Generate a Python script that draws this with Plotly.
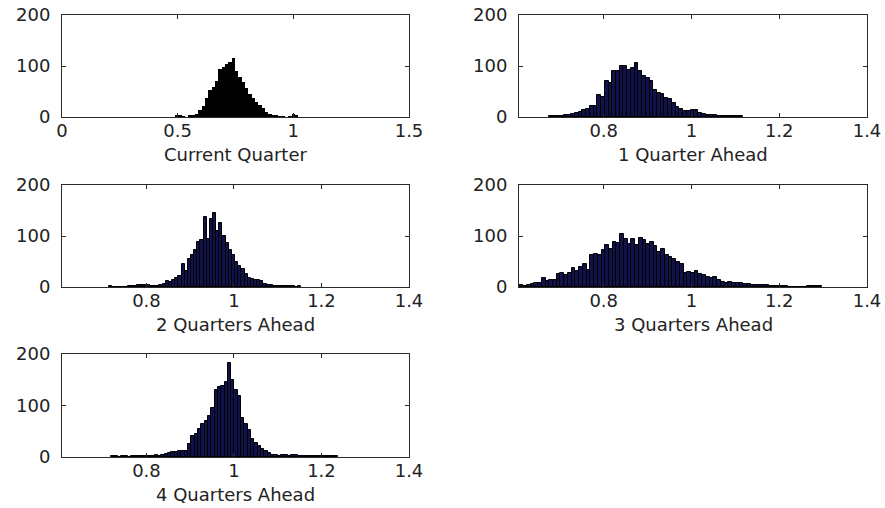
import plotly.graph_objects as go

# ---------------- data (histogram counts) ----------------
titles = ["Current Quarter", "1 Quarter Ahead", "2 Quarters Ahead",
          "3 Quarters Ahead", "4 Quarters Ahead"]

current_start = 0.489
current_width = 0.0144
current_counts = [4, 3, 1, 0, 3, 4, 6, 13, 22, 38, 52, 58, 70, 94, 99, 104, 108, 115,
                  90, 79, 69, 56, 46, 37, 30, 24, 17, 10, 5, 3, 2, 1, 1, 0, 1, 5, 2]

q1_start = 0.675
q1_width = 0.0085
q1_counts = [1, 1, 2, 2, 3, 3, 5, 7, 10, 13, 16, 22, 22, 44, 40, 70, 66, 90, 91, 100,
             100, 93, 97, 105, 90, 80, 76, 70, 52, 48, 45, 38, 36, 28, 20, 15, 12, 12,
             13, 14, 8, 6, 4, 3, 3, 2, 2, 1, 2, 1, 1, 1]

q2_start = 0.7145
q2_width = 0.0072
q2_counts = [1, 0, 0, 0, 0, 0, 1, 1, 2, 3, 4, 3, 4, 2, 2, 2, 3, 5, 11, 10, 14, 18, 22,
             45, 32, 55, 62, 72, 88, 93, 138, 95, 133, 146, 110, 125, 100, 86, 72, 62,
             50, 42, 36, 25, 18, 16, 14, 13, 11, 6, 3, 3, 2, 2, 2, 1, 1, 2, 1, 0, 1]

q3_start = 0.608
q3_width = 0.0085
q3_counts = [3, 2, 4, 6, 7, 8, 17, 12, 13, 14, 25, 27, 24, 28, 38, 32, 40, 45, 34, 62,
             64, 62, 72, 82, 75, 88, 86, 103, 95, 84, 95, 82, 97, 93, 85, 88, 80, 68,
             74, 62, 58, 55, 50, 45, 28, 30, 27, 31, 25, 24, 20, 18, 19, 14, 9, 8, 9,
             8, 7, 7, 6, 5, 4, 4, 3, 3, 3, 2, 2, 2, 1, 2, 0, 0, 0, 0, 0, 2, 1, 2, 1]

q4_start = 0.72
q4_width = 0.0076
q4_counts = [1, 1, 0, 1, 1, 0, 1, 1, 1, 2, 2, 2, 2, 3, 2, 3, 5, 7, 9, 10, 11, 11, 12,
             26, 40, 45, 55, 65, 70, 80, 95, 130, 135, 138, 145, 183, 150, 130, 118,
             75, 65, 52, 35, 28, 22, 15, 12, 8, 4, 3, 2, 4, 3, 2, 3, 3, 2, 2, 2, 1, 2,
             1, 1, 2, 2, 1, 1, 1]

x_ranges = [[0, 1.5], [0.607, 1.4], [0.607, 1.4], [0.607, 1.4], [0.607, 1.4]]
x_ticks = [[0, 0.5, 1, 1.5], [0.8, 1, 1.2, 1.4], [0.8, 1, 1.2, 1.4],
           [0.8, 1, 1.2, 1.4], [0.8, 1, 1.2, 1.4]]
x_ticktext = [["0", "0.5", "1", "1.5"], ["0.8", "1", "1.2", "1.4"],
              ["0.8", "1", "1.2", "1.4"], ["0.8", "1", "1.2", "1.4"],
              ["0.8", "1", "1.2", "1.4"]]
y_ticks = [0, 100, 200]
y_ticktext = ["0", "100", "200"]

# ---------------- layout geometry (pixels in an 885x508 figure) ----------------
W, H = 885, 508
boxes = [(62, 409, 15, 117), (519, 867, 15, 117),
         (62, 409, 185, 287), (519, 867, 185, 287),
         (62, 409, 354, 457)]

NAVY = "#12124a"
hist_specs = [(current_start, current_width, current_counts, "black"),
              (q1_start, q1_width, q1_counts, NAVY),
              (q2_start, q2_width, q2_counts, NAVY),
              (q3_start, q3_width, q3_counts, NAVY),
              (q4_start, q4_width, q4_counts, NAVY)]

FONT = "DejaVu Sans"
TXT = "#222222"
AX = "#2a2a2a"

fig = go.Figure()
layout = dict(width=W, height=H, margin=dict(l=0, r=0, t=0, b=0, autoexpand=False),
              paper_bgcolor="white", plot_bgcolor="white", showlegend=False,
              bargap=0, font=dict(family=FONT, size=18, color=TXT))
annotations = []

for k, ((start, width, counts, color), (x0, x1, y0, y1)) in enumerate(zip(hist_specs, boxes)):
    centers = [start + width * (i + 0.5) for i in range(len(counts))]
    xa = "x" if k == 0 else f"x{k+1}"
    ya = "y" if k == 0 else f"y{k+1}"
    fig.add_trace(go.Bar(x=centers, y=counts, width=width, xaxis=xa, yaxis=ya,
                         marker=dict(color=color, line=dict(color="black", width=1 if k else 0)),
                         hoverinfo="x+y"))
    xd = [x0 / W, x1 / W]
    yd = [1 - y1 / H, 1 - y0 / H]
    xkey = "xaxis" if k == 0 else f"xaxis{k+1}"
    ykey = "yaxis" if k == 0 else f"yaxis{k+1}"
    layout[xkey] = dict(domain=xd, range=x_ranges[k], tickmode="array",
                        tickvals=x_ticks[k], ticktext=x_ticktext[k],
                        ticks="inside", ticklen=4, tickcolor=AX, tickwidth=1,
                        showline=True, linecolor=AX, linewidth=1, mirror="ticks",
                        showgrid=False, zeroline=False, anchor=ya, automargin=False,
                        ticklabelstandoff=-3,
                        tickfont=dict(family=FONT, size=18, color=TXT))
    layout[ykey] = dict(domain=yd, range=[0, 200], tickmode="array",
                        tickvals=y_ticks, ticktext=y_ticktext,
                        ticks="inside", ticklen=4, tickcolor=AX, tickwidth=1,
                        showline=True, linecolor=AX, linewidth=1, mirror="ticks",
                        showgrid=False, zeroline=False, anchor=xa, automargin=False,
                        ticklabelstandoff=7,
                        tickfont=dict(family=FONT, size=18, color=TXT))
    annotations.append(dict(text=titles[k], xref="paper", yref="paper",
                            x=(xd[0] + xd[1]) / 2, y=yd[0], xanchor="center",
                            yanchor="middle", yshift=-37, showarrow=False,
                            font=dict(family=FONT, size=18, color=TXT)))

layout["annotations"] = annotations
fig.update_layout(**layout)
fig.write_html("out.html", config={"displayModeBar": False},
               post_script="document.body.style.margin='0px';document.body.style.overflow='hidden';")
